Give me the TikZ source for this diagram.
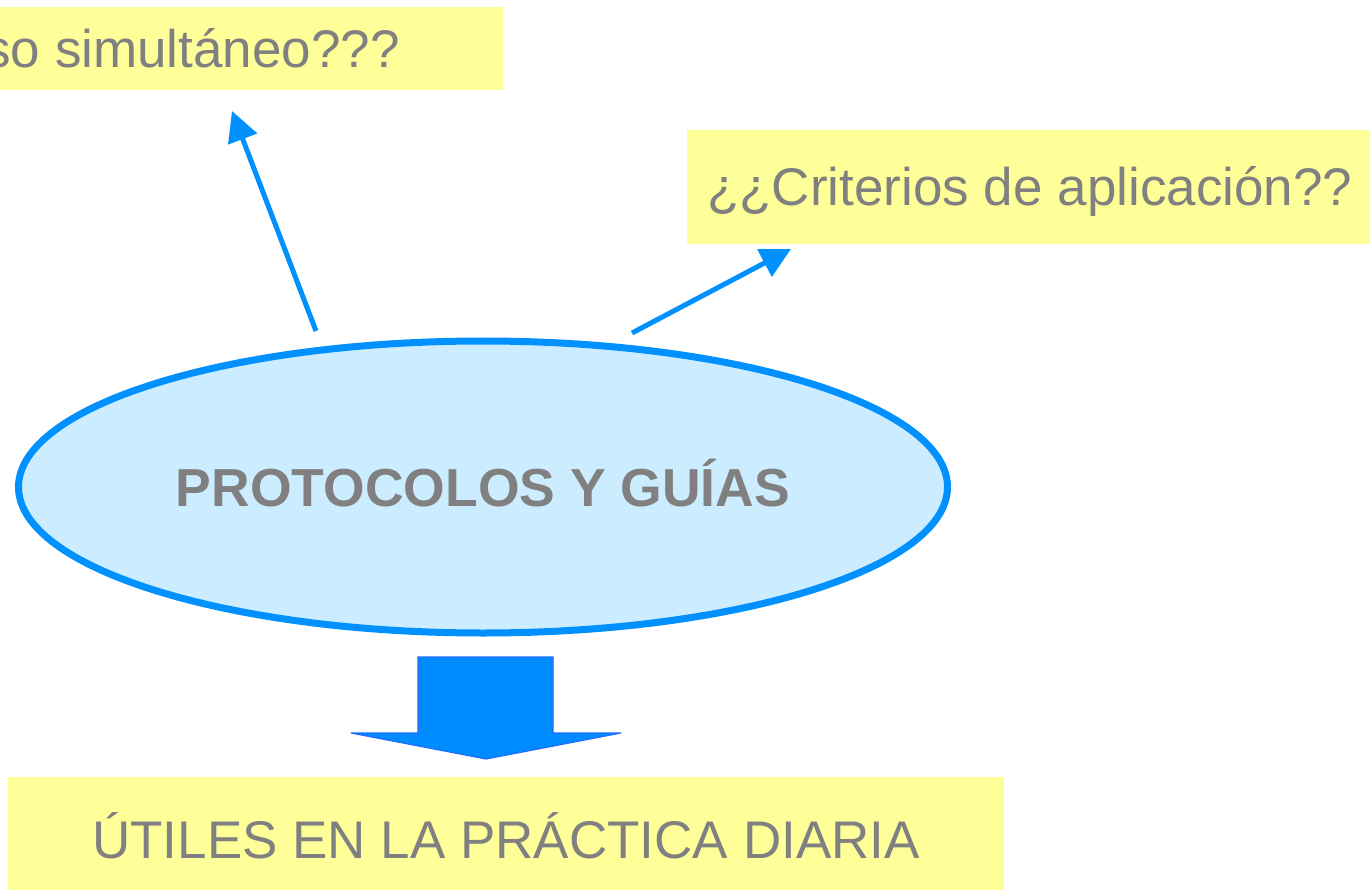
\documentclass[tikz,border=0pt]{standalone}
\usepackage{fontspec}
\setmainfont{Liberation Sans}
\usetikzlibrary{arrows.meta,shapes.geometric}
\definecolor{boxyellow}{RGB}{255,255,153}
\definecolor{txtgray}{RGB}{128,128,128}
\definecolor{ellfill}{RGB}{204,236,255}
\definecolor{lineblue}{RGB}{0,145,255}
\definecolor{blockfill}{RGB}{0,140,255}
\definecolor{blockdraw}{RGB}{30,110,255}
\tikzset{
  notebox/.style={fill=boxyellow, text=txtgray, inner ysep=0pt, text height=38pt, text depth=0pt,
    font=\fontsize{53}{60}\selectfont},
  ellnode/.style={ellipse, draw=lineblue, line width=7pt, fill=ellfill, inner sep=0pt,
    minimum width=929pt, minimum height=292pt, text=txtgray, text height=38pt, text depth=0pt,
    font=\fontsize{53.5}{60}\selectfont\bfseries},
  thinarrow/.style={draw=lineblue, line width=5pt, -{Triangle[length=30pt,width=30pt]}},
  blockarrow/.style={fill=blockfill, draw=blockdraw, line width=1.2pt, line join=miter},
}
\begin{document}
\begin{tikzpicture}[x=1pt,y=-1pt]
\useasboundingbox (0,0) rectangle (1370,890);
\fill[white] (0,0) rectangle (1370,890);
% boxes
\node[notebox, anchor=east, inner xsep=103pt, minimum height=83pt] (uso) at (503,49) {so simultáneo???};
\node[notebox, anchor=west, inner xsep=20pt, minimum height=114pt] (crit) at (687,187) {¿¿Criterios de aplicación??};
\node[notebox, minimum width=996pt, minimum height=124pt] (util) at (506,839) {ÚTILES EN LA PRÁCTICA DIARIA};
% ellipse
\node[ellnode] (prot) at (483,487) {PROTOCOLOS Y GUÍAS};
% thin arrows
\coordinate (a1s) at (316,331);
\coordinate (a1e) at (232,111);
\coordinate (a2s) at (632,333);
\coordinate (a2e) at (791,249);
\draw[thinarrow] (a1s) -- (a1e);
\draw[thinarrow] (a2s) -- (a2e);
% block arrow
\coordinate (bt) at (486,759);
\draw[blockarrow] (418,657) -- (553,657) -- (553,733) -- (621,733) -- (bt) -- (351,733) -- (418,733) -- cycle;
\end{tikzpicture}
\end{document}
